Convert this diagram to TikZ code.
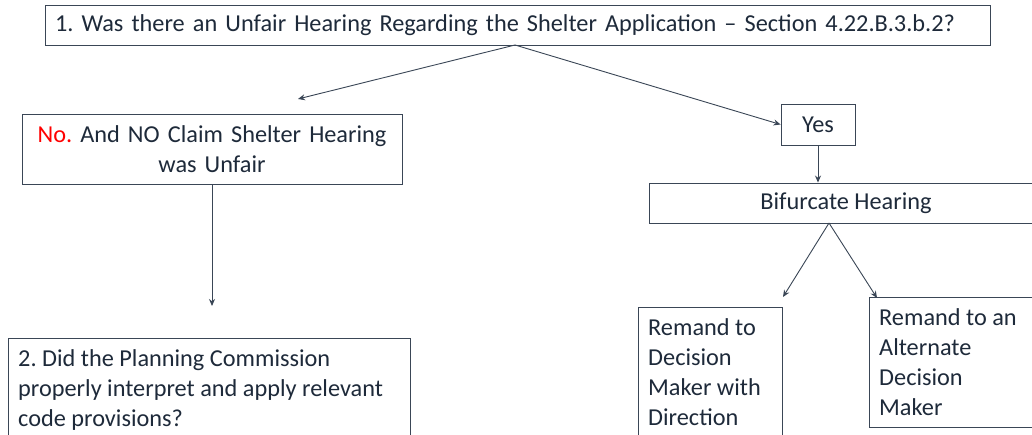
\documentclass[tikz,border=0pt]{standalone}
\usepackage{fontspec}
\setmainfont{Carlito}
\usetikzlibrary{arrows.meta}
\definecolor{txt}{HTML}{1E2A3A}
\definecolor{edge}{HTML}{3A4656}
\definecolor{nored}{HTML}{FF0000}
\frenchspacing
\begin{document}
\begin{tikzpicture}[x=1pt,y=-1pt,
  box/.style={draw=edge, line width=0.9pt, fill=white, text=txt, inner sep=0pt,
    font=\fontsize{24.3}{30}\selectfont},
  lbl/.style={text=txt, font=\fontsize{24.3}{30}\selectfont, anchor=north west, align=left, inner sep=0pt},
  conn/.style={draw=edge, line width=0.9pt, -{Stealth[length=7pt,width=6pt]}}]
\useasboundingbox (0,0) rectangle (1032,435);
\begin{scope}
\clip (0,0) rectangle (1032,435);
\fill[white] (0,0) rectangle (1032,435);
% boxes
\node[box, minimum width=945pt, minimum height=40pt, text width=925pt, align=left] (q1) at (517.5,25)
  {1. Was there an Unfair Hearing Regarding the Shelter Application -- Section 4.22.B.3.b.2?};
\node[box, minimum width=380pt, minimum height=70pt, text width=370pt, align=center] (no) at (212,149)
  {\textcolor{nored}{No.} And NO Claim Shelter Hearing\\was Unfair};
\node[box, minimum width=402pt, minimum height=112pt, anchor=north west] (q2) at (8,338) {};
\node[lbl] (q2t) at (18,349)
  {2. Did the Planning Commission\\properly interpret and apply relevant\\code provisions?};
\node[box, minimum width=74pt, minimum height=41pt] (yes) at (818,124.5) {Yes};
\node[box, minimum width=394pt, minimum height=40pt] (bif) at (846,203) {Bifurcate Hearing};
\node[box, minimum width=144pt, minimum height=150pt, anchor=north west] (r1) at (638,307) {};
\node[lbl] (r1t) at (648,318)
  {Remand to\\Decision\\Maker with\\Direction};
\node[box, minimum width=200pt, minimum height=130pt, anchor=north west] (r2) at (869,297) {};
\node[lbl] (r2t) at (879,308)
  {Remand to an\\Alternate\\Decision\\Maker};
% connectors
\coordinate (a1) at (298,99);
\coordinate (a2) at (212,306);
\coordinate (b1) at (783,297);
\coordinate (b2) at (877,298);
\coordinate (q1b) at (515,45);
\coordinate (bifb) at (829,223);
\draw[conn] (q1b) -- (a1);
\draw[conn] (q1b) -- (yes.west);
\draw[conn] (no.south) -- (a2);
\draw[conn] (yes.south) -- (yes.south |- bif.north);
\draw[conn] (bifb) -- (b1);
\draw[conn] (bifb) -- (b2);
\end{scope}
\end{tikzpicture}
\end{document}
